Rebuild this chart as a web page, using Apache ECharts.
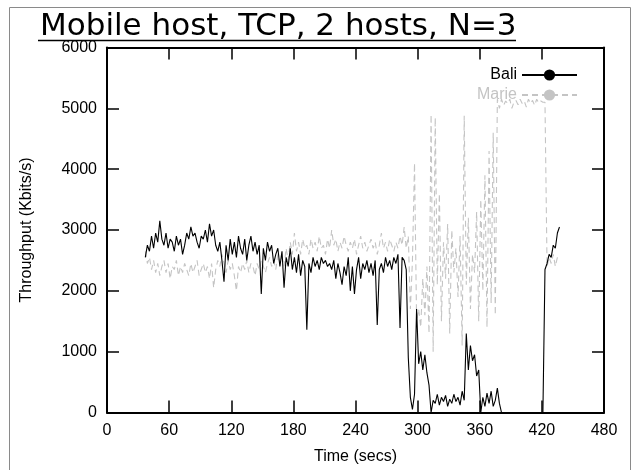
<!DOCTYPE html>
<html>
<head>
<meta charset="utf-8">
<script src="https://cdn.jsdelivr.net/npm/echarts@6/dist/echarts.min.js"></script>
<style>
html,body{margin:0;padding:0;background:#fff;}
#chart{width:634px;height:470px;}
</style>
</head>
<body>
<div id="chart"></div>
<script>
// Sample times (secs)
var times = [
37,39,41,43,45,47,49,51,53,55,57,59,61,63,65,67,69,71,73,75,77,79,81,83,85,87,89,91,93,95,97,99,
101,103,105,107,109,111,113,115,117,119,121,123,125,127,129,131,133,135,137,139,141,143,145,147,149,
151,153,155,157,159,161,163,165,167,169,171,173,175,177,179,181,183,185,187,189,191,193,195,197,199,
201,203,205,207,209,211,213,215,217,219,221,223,225,227,229,231,233,235,237,239,241,243,245,247,249,
251,253,255,257,259,261,263,265,267,269,271,273,275,277,279,281,283,285,287,289,291,293,295,297,299,
301,303,305,307,309,311,313,315,317,319,321,323,325,327,329,331,333,335,337,339,341,343,345,347,349,
351,353,355,357,359,361,363,365,367,369,371,373,375,377,379,381,383,385,387,389,391,393,395,397,399,
401,403,405,407,409,411,413,415,417,419,421,423,425,427,429,431,433,435,437
];

// Bali throughput (Kbits/s)
var bali = [
2550,2750,2650,2900,2700,2950,2800,3150,2850,2750,2950,2700,2850,2800,2650,2900,2750,2850,2600,2750,
2950,2850,3050,2900,2950,2800,2700,2900,2850,3000,2800,3100,2900,3000,2750,2650,2800,2500,
2150,2750,2500,2850,2600,2800,2550,2900,2700,2600,2850,2500,2750,2900,2650,2800,2600,2750,1950,2700,
2500,2800,2650,2750,2450,2600,2700,2400,2650,2050,2550,2400,2700,2350,
2550,2300,2600,2250,2500,2400,1360,2450,2300,2550,2400,2500,2350,2550,2450,2500,2400,2450,2350,2500,
2200,2450,2300,2100,2400,2250,2550,2000,2400,1950,2350,2550,2200,2450,2350,2500,2300,2450,2250,2500,
1440,2350,2450,2300,2550,2400,2500,2350,2550,2450,2600,1390,2550,2500,2350,
900,250,50,300,1700,800,1000,700,950,650,450,0,200,150,300,120,250,180,280,100,220,150,300,180,250,
120,350,200,1300,700,1100,850,950,600,700,0,250,100,320,150,350,100,200,400,150,0,
0,0,0,0,0,0,0,0,0,0,0,0,0,0,0,0,0,0,0,0,
2350,2450,2600,2550,2750,2700,2950,3050
];

// Marie throughput (Kbits/s)
var marie = [
2650,2450,2550,2350,2500,2300,2450,2250,2400,2500,2300,2450,2200,2400,2350,2500,2250,2400,2300,2450,
2350,2250,2450,2300,2400,2500,2250,2350,2450,2300,2400,2200,2450,2050,2350,2500,2400,2600,2450,2300,
2500,2350,2450,2250,2000,2400,2300,2450,2350,2500,2300,2450,2400,2250,2450,2350,2500,2400,2300,2450,
2550,2400,2500,2350,2600,2450,2550,2400,2700,2500,2800,2600,
2950,2650,2800,2600,2850,2700,2750,2600,2850,2700,2800,2650,2900,2700,2750,2600,2850,2700,3000,2750,
2850,2650,2800,2700,2900,2750,2650,2800,2700,2850,2600,2750,2900,2700,2800,2650,2750,2850,2700,2800,
2600,2750,2950,2700,2800,2650,2850,2750,2650,2800,2700,2900,2750,3050,2700,
2900,1700,2500,4100,1500,1700,1400,2200,1600,2400,1300,4900,1000,4850,2100,3600,1500,2800,2200,3100,
1300,3000,2300,2700,1900,2900,1100,4880,2100,3200,1700,2600,2300,3300,1500,3500,2000,3900,1400,4300,
1800,4600,1600,5150,
5000,5150,5050,5120,5080,5150,5000,5100,5130,5060,5150,5080,5120,5020,5150,5080,5130,5050,5150,5090,
5120,5100,5100,
2400,2550,2450,2600,2400,2550,2500
];

var xTicks = {min: 0, max: 480, interval: 60};
var yTicks = {min: 0, max: 6000, interval: 1000};
var seriesNames = ['Bali', 'Marie'];

function pairs(vals) { return vals.map(function (v, i) { return [times[i], v]; }); }
function plain(v) { return String(v); }

var labelFont = 'Liberation Sans, Arial, sans-serif';

var chart = echarts.init(document.getElementById('chart'), null, {renderer: 'canvas'});
chart.setOption({
  animation: false,
  backgroundColor: '#fff',
  title: {
    text: 'Mobile host, TCP, 2 hosts, N=3',
    left: 35, top: 6,
    textStyle: {fontFamily: 'DejaVu Sans', fontSize: 31, fontWeight: 'normal', color: '#000'}
  },
  graphic: [
    {type: 'rect', shape: {x: 9.5, y: 7.5, width: 621, height: 470}, style: {fill: null, stroke: '#8a8a8a', lineWidth: 1}, silent: true},
    {type: 'line', shape: {x1: 38, y1: 40.5, x2: 516, y2: 40.5}, style: {stroke: '#000', lineWidth: 1.5}, silent: true}
  ],
  legend: {
    orient: 'vertical', right: 51, top: 62, align: 'right',
    itemWidth: 55, itemHeight: 14, itemGap: 4,
    textStyle: {fontFamily: labelFont, fontSize: 16},
    data: [
      {name: seriesNames[0], textStyle: {color: '#000'}},
      {name: seriesNames[1], textStyle: {color: '#c4c4c4'}}
    ]
  },
  grid: {left: 107, right: 30, top: 47.5, bottom: 57.5, containLabel: false},
  xAxis: [
    {type: 'value', min: xTicks.min, max: xTicks.max, interval: xTicks.interval, position: 'bottom',
     axisLine: {show: true, lineStyle: {color: '#000', width: 2}},
     axisTick: {show: true, inside: true, length: 12, lineStyle: {color: '#000', width: 1.5}},
     splitLine: {show: false},
     axisLabel: {fontFamily: labelFont, fontSize: 16, color: '#000', margin: 10, formatter: plain},
     name: 'Time (secs)', nameLocation: 'middle', nameGap: 36,
     nameTextStyle: {fontFamily: labelFont, fontSize: 16, color: '#000'}},
    {type: 'value', min: xTicks.min, max: xTicks.max, interval: xTicks.interval, position: 'top',
     axisLine: {show: true, onZero: false, lineStyle: {color: '#000', width: 2}},
     axisTick: {show: true, inside: true, length: 12, lineStyle: {color: '#000', width: 1.5}},
     splitLine: {show: false}, axisLabel: {show: false}}
  ],
  yAxis: [
    {type: 'value', min: yTicks.min, max: yTicks.max, interval: yTicks.interval, position: 'left',
     axisLine: {show: true, lineStyle: {color: '#000', width: 2}},
     axisTick: {show: true, inside: true, length: 12, lineStyle: {color: '#000', width: 1.5}},
     splitLine: {show: false},
     axisLabel: {fontFamily: labelFont, fontSize: 16, color: '#000', margin: 10, formatter: plain},
     name: 'Throughput (Kbits/s)', nameLocation: 'middle', nameGap: 72,
     nameTextStyle: {fontFamily: labelFont, fontSize: 16, color: '#000'}},
    {type: 'value', min: yTicks.min, max: yTicks.max, interval: yTicks.interval, position: 'right',
     axisLine: {show: true, onZero: false, lineStyle: {color: '#000', width: 2}},
     axisTick: {show: true, inside: true, length: 12, lineStyle: {color: '#000', width: 1.5}},
     splitLine: {show: false}, axisLabel: {show: false}}
  ],
  series: [
    {name: seriesNames[0], type: 'line', xAxisIndex: 0, yAxisIndex: 0, data: pairs(bali),
     showSymbol: false, symbol: 'none', z: 3,
     lineStyle: {color: '#000', width: 1.1}, itemStyle: {color: '#000'}},
    {name: seriesNames[1], type: 'line', xAxisIndex: 0, yAxisIndex: 0, data: pairs(marie),
     showSymbol: false, symbol: 'none', z: 2,
     lineStyle: {color: '#c4c4c4', width: 1.1, type: [6, 4]}, itemStyle: {color: '#c4c4c4'}}
  ]
});
</script>
</body>
</html>
